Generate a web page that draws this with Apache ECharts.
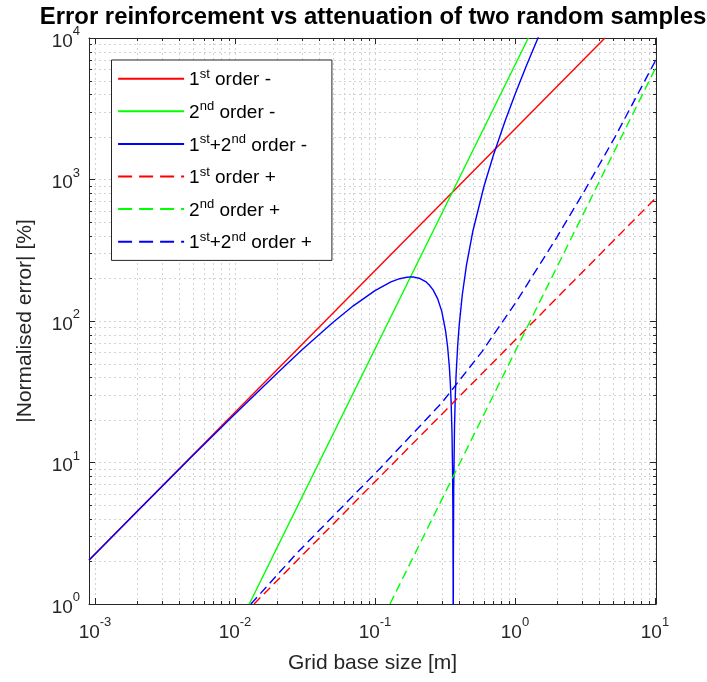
<!DOCTYPE html>
<html><head><meta charset="utf-8">
<script src="https://cdn.jsdelivr.net/npm/echarts@6/dist/echarts.min.js"></script>
<style>html,body{margin:0;padding:0;background:#fff}#c{width:707px;height:682px}</style>
</head><body><div id="c"></div>
<script>
// ---------- data ----------
const titleText = 'Error reinforcement vs attenuation of two random samples';
const xName = 'Grid base size [m]';
const yName = '|Normalised error| [%]';
const xLimits = [9.06e-4, 10.17];
const yLimits = [1, 10000];

const seriesNames = ['1st order -', '2nd order -', '1st+2nd order -', '1st order +', '2nd order +', '1st+2nd order +'];
const legendRich = ['{m|1}{s|st}{m| order -}', '{m|2}{s|nd}{m| order -}', '{m|1}{s|st}{m|+2}{s|nd}{m| order -}',
                    '{m|1}{s|st}{m| order +}', '{m|2}{s|nd}{m| order +}', '{m|1}{s|st}{m|+2}{s|nd}{m| order +}'];

const firstMinus = [[9.06e-4, 2.05], [4.39, 10000]];
const secondMinus = [[0.01265, 1], [1.245, 10000]];
const sumMinus = [[9.06e-4, 2.04], [0.002, 4.50], [0.005, 11.2], [0.01, 22.0], [0.02, 42.8], [0.03, 62.3],
  [0.05, 97.5], [0.07, 128], [0.1, 164], [0.13, 189], [0.15, 199], [0.17, 204], [0.181, 205], [0.19, 204.4],
  [0.21, 199.6], [0.23, 190], [0.245, 179], [0.26, 166], [0.28, 144], [0.3, 117], [0.32, 84], [0.33, 66],
  [0.34, 47], [0.345, 36.9], [0.35, 26.5], [0.355, 15.9], [0.358, 9.3], [0.36, 4.8], [0.3615, 1.44],
  [0.3621, 0.1], [0.363, 1.96], [0.365, 6.5], [0.37, 18.2], [0.375, 30.2], [0.38, 42.5], [0.39, 67.9],
  [0.4, 94.6], [0.42, 152], [0.45, 247], [0.5, 431], [0.6, 892], [0.7, 1478], [0.85, 2591], [1.0, 3986],
  [1.2, 6283], [1.5, 10666]];
const firstPlus = [[0.01368, 1], [10.17, 743]];
const secondPlus = [[0.128, 1], [10.17, 6223]];
const sumPlus = [[0.0130, 1], [0.0277, 2.29], [0.0562, 4.68], [0.109, 9.12], [0.299, 26.3], [0.578, 60.3],
  [1.028, 138], [1.986, 389], [3.16, 842], [5.176, 1995], [10.17, 7030]];

const xMinorTicks = [0.002,0.003,0.004,0.005,0.006,0.007,0.008,0.009,
  0.02,0.03,0.04,0.05,0.06,0.07,0.08,0.09,
  0.2,0.3,0.4,0.5,0.6,0.7,0.8,0.9,
  2,3,4,5,6,7,8,9];
const yMinorTicks = [2,3,4,5,6,7,8,9, 20,30,40,50,60,70,80,90,
  200,300,400,500,600,700,800,900, 2000,3000,4000,5000,6000,7000,8000,9000];

// ---------- chart ----------
const FONT = "'Liberation Sans', Arial, Helvetica, sans-serif";
const AX = '#262626';
const GRIDC = '#d2d2d2';

function powLabel(v) {
  const e = Math.log10(v);
  const r = Math.round(e);
  if (Math.abs(e - r) > 1e-6) return '';
  return '{b|10}{s|' + r + '}';
}
const tickRich = {
  b: { fontSize: 19, fontFamily: FONT, color: AX, lineHeight: 26, verticalAlign: 'bottom' },
  s: { fontSize: 13, fontFamily: FONT, color: AX, lineHeight: 26, verticalAlign: 'top' }
};

function minorX(params, api) {
  const cs = params.coordSys;
  const px = Math.round(api.coord([api.value(0), yLimits[0]])[0]) + 0.5;
  return { type: 'group', children: [
    { type: 'line', shape: { x1: px, y1: cs.y, x2: px, y2: cs.y + cs.height }, style: { stroke: GRIDC, lineWidth: 1, lineDash: [2, 3] } },
    { type: 'line', shape: { x1: px, y1: cs.y + cs.height, x2: px, y2: cs.y + cs.height - 3 }, style: { stroke: AX, lineWidth: 1 } },
    { type: 'line', shape: { x1: px, y1: cs.y, x2: px, y2: cs.y + 3 }, style: { stroke: AX, lineWidth: 1 } }
  ]};
}
function minorY(params, api) {
  const cs = params.coordSys;
  const py = Math.round(api.coord([xLimits[0], api.value(1)])[1]) + 0.5;
  return { type: 'group', children: [
    { type: 'line', shape: { x1: cs.x, y1: py, x2: cs.x + cs.width, y2: py }, style: { stroke: GRIDC, lineWidth: 1, lineDash: [2, 3] } },
    { type: 'line', shape: { x1: cs.x, y1: py, x2: cs.x + 3, y2: py }, style: { stroke: AX, lineWidth: 1 } },
    { type: 'line', shape: { x1: cs.x + cs.width, y1: py, x2: cs.x + cs.width - 3, y2: py }, style: { stroke: AX, lineWidth: 1 } }
  ]};
}

function logAxis(pos, lim, show, labelMargin, extra) {
  return Object.assign({
    type: 'log', logBase: 10, position: pos, min: lim[0], max: lim[1],
    axisLine: { show: true, lineStyle: { color: AX, width: 1 } },
    axisTick: { show: true, inside: true, length: 6, lineStyle: { color: AX } },
    axisLabel: show ? { show: true, formatter: powLabel, rich: tickRich, margin: labelMargin, showMinLabel: true, showMaxLabel: true } : { show: false },
    splitLine: { show: show, lineStyle: { color: GRIDC, width: 1, type: [2, 3] } },
    minorTick: { show: false }
  }, extra || {});
}

const colors = ['#ff0000', '#00ff00', '#0000ff', '#ff0000', '#00ff00', '#0000ff'];
const datasets = [firstMinus, secondMinus, sumMinus, firstPlus, secondPlus, sumPlus];

const series = datasets.map((d, i) => ({
  name: seriesNames[i], type: 'line', data: d, symbol: 'none', smooth: false, clip: true,
  xAxisIndex: 0, yAxisIndex: 0, z: 3,
  lineStyle: { color: colors[i], width: 1.4, type: i < 3 ? 'solid' : [9, 5] },
  itemStyle: { color: colors[i] }
}));
series.unshift(
  { name: 'minorX', type: 'custom', renderItem: minorX, data: xMinorTicks.map(v => [v, yLimits[0]]), z: 1, silent: true, xAxisIndex: 0, yAxisIndex: 0 },
  { name: 'minorY', type: 'custom', renderItem: minorY, data: yMinorTicks.map(v => [xLimits[0], v]), z: 1, silent: true, xAxisIndex: 0, yAxisIndex: 0 }
);

const chart = echarts.init(document.getElementById('c'), null, { renderer: 'canvas' });
chart.setOption({
  animation: false,
  backgroundColor: '#fff',
  title: {
    text: titleText, left: 373, top: 5, padding: 0, textAlign: 'center',
    textStyle: { fontFamily: FONT, fontSize: 23.9, fontWeight: 'bold', color: '#000' }
  },
  grid: { left: 89, right: 51, top: 38, bottom: 78, containLabel: false },
  xAxis: [
    logAxis('bottom', xLimits, true, 12, { name: xName, nameLocation: 'middle', nameGap: 49,
      nameTextStyle: { fontFamily: FONT, fontSize: 21, color: AX } }),
    logAxis('top', xLimits, false, 0)
  ],
  yAxis: [
    logAxis('left', yLimits, true, 9, { name: yName, nameLocation: 'middle', nameGap: 53,
      nameTextStyle: { fontFamily: FONT, fontSize: 21, color: AX } }),
    logAxis('right', yLimits, false, 0)
  ],
  legend: {
    orient: 'vertical', left: 111.5, top: 60,
    itemWidth: 66, itemHeight: 14, itemGap: 10.6,
    padding: [7.7, 20, 7.7, 5.6],
    borderColor: AX, borderWidth: 1, borderRadius: 0, backgroundColor: '#fff',
    itemStyle: { opacity: 0, borderWidth: 0 },
    data: seriesNames.map((n, i) => i < 3 ? { name: n } : { name: n, lineStyle: { type: [14, 7] } }),
    formatter: function (name) { return legendRich[seriesNames.indexOf(name)]; },
    textStyle: {
      fontFamily: FONT, fontSize: 19, color: '#000',
      rich: {
        m: { fontFamily: FONT, fontSize: 19, color: '#000', lineHeight: 22, verticalAlign: 'bottom' },
        s: { fontFamily: FONT, fontSize: 13, color: '#000', lineHeight: 22, verticalAlign: 'top' }
      }
    }
  },
  series: series
});
</script>
</body></html>
